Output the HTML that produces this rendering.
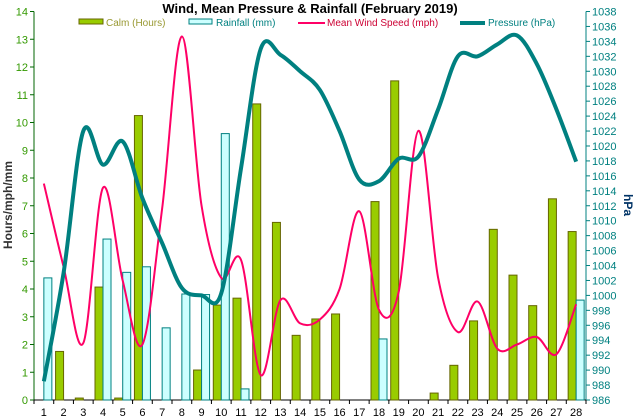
<!DOCTYPE html>
<html><head><meta charset="utf-8"><style>
body{margin:0;background:#fff;}
svg{display:block;font-family:"Liberation Sans",sans-serif;}
</style></head><body>
<svg id="c" width="635" height="419" viewBox="0 0 635 419" xmlns="http://www.w3.org/2000/svg">
<text x="310" y="13" text-anchor="middle" font-size="13" font-weight="bold" fill="#000">Wind, Mean Pressure &amp; Rainfall (February 2019)</text>
<g font-size="10">
<g><rect x="79" y="19" width="24" height="5" fill="#99cc00" stroke="#666600"/><text x="106" y="26" fill="#999933">Calm (Hours)</text></g>
<g><rect x="189" y="19" width="23" height="5" fill="#ccffff" stroke="#008080"/><text x="216" y="26" fill="#008080">Rainfall (mm)</text></g>
<g><line x1="298" y1="23" x2="325" y2="23" stroke="#ff0066" stroke-width="2"/><text x="327" y="26" fill="#cc0033">Mean Wind Speed (mph)</text></g>
<g><line x1="460" y1="23" x2="485" y2="23" stroke="#008080" stroke-width="4"/><text x="488" y="26" fill="#008080">Pressure (hPa)</text></g>
</g>
<text transform="translate(12,205) rotate(-90)" text-anchor="middle" font-size="12" font-weight="bold" fill="#333">Hours/mph/mm</text>
<text transform="translate(624,205) rotate(90)" text-anchor="middle" font-size="12" font-weight="bold" fill="#003366">hPa</text>
<g id="axes"></g><g id="bars"></g><g id="lines"></g>
</svg>
<script>
const days=[1,2,3,4,5,6,7,8,9,10,11,12,13,14,15,16,17,18,19,20,21,22,23,24,25,26,27,28];
const calm=[0,1.75,0.07,4.07,0.07,10.25,0,0,1.08,3.42,3.67,10.67,6.4,2.33,2.92,3.1,0,7.15,11.5,0,0.25,1.25,2.85,6.15,4.5,3.4,7.25,6.07];
const rain=[4.4,0,0,5.8,4.6,4.8,2.6,3.82,3.8,9.6,0.4,0,0,0,0,0,0,2.2,0,0,0,0,0,0,0,0,0,3.6];
const wind=[7.8,4.8,2.05,7.65,4.3,2.0,6.9,13.1,7.0,4.4,5.05,0.9,3.6,2.76,2.9,4.0,6.8,3.25,3.9,9.7,4.4,2.45,3.55,1.85,2.0,2.27,1.65,3.45];
const pressure=[988.5,1003,1022,1017.5,1020.6,1013,1007,1001,1000,1000.3,1017,1033,1032.2,1030,1027.5,1022,1015.5,1015.3,1018.3,1018.6,1024.9,1032,1032,1033.6,1034.8,1031,1024.9,1017.9];
const leftTicks=[0,1,2,3,4,5,6,7,8,9,10,11,13,12,14];
const rightTicks=[];for(let v=986;v<=1038;v+=2)rightTicks.push(v);
const X0=34,X1=586,Y0=400,Y1=11.5,n=days.length,cw=(X1-X0)/n;
const ly=v=>Y0-(v/14)*(Y0-Y1);
const ry=v=>Y0-((v-986)/52)*(Y0-Y1);
const cx=i=>X0+cw*(i+0.5);
const NS="http://www.w3.org/2000/svg";
function mk(t,a,p){const e=document.createElementNS(NS,t);for(const k in a)e.setAttribute(k,a[k]);p.appendChild(e);return e;}
const ax=document.getElementById('axes'),bg=document.getElementById('bars'),lg=document.getElementById('lines');
let e=mk('line',{x1:X0,y1:Y1,x2:X0,y2:Y0,stroke:'#006600'},ax);


e=mk('line',{x1:X1,y1:Y1,x2:X1,y2:Y0,stroke:'#008080'},ax);


e=mk('line',{x1:X0,y1:Y0,x2:X1,y2:Y0,stroke:'#000'},ax);


leftTicks.forEach(v=>{mk('line',{x1:X0-4,x2:X0,y1:ly(v),y2:ly(v),stroke:'#006600'},ax);
 const t=mk('text',{x:X0-6,y:ly(v)+4,'text-anchor':'end','font-size':11,fill:'#339900'},ax);t.textContent=v;
 
 });
rightTicks.forEach(v=>{mk('line',{x1:X1,x2:X1+4,y1:ry(v),y2:ry(v),stroke:'#008080'},ax);
 const t=mk('text',{x:X1+6,y:ry(v)+4,'font-size':11,fill:'#008080'},ax);t.textContent=v;
 
 });
for(let i=0;i<=n;i++)mk('line',{x1:X0+cw*i,x2:X0+cw*i,y1:Y0,y2:Y0+4,stroke:'#000'},ax);
days.forEach((d,i)=>{const t=mk('text',{x:cx(i),y:Y0+16,'text-anchor':'middle','font-size':11,fill:'#000'},ax);t.textContent=d;
 
 });
const bw=8;
calm.forEach((v,i)=>{if(v<=0)return;const r=mk('rect',{x:cx(i)-bw,y:ly(v),width:bw,height:Y0-ly(v),fill:'#99cc00',stroke:'#666600','stroke-width':1},bg);
 
 });
rain.forEach((v,i)=>{if(v<=0)return;const r=mk('rect',{x:cx(i),y:ly(v),width:bw,height:Y0-ly(v),fill:'#ccffff',stroke:'#008080','stroke-width':1},bg);
 
 });
function smooth(pts){let d='M'+pts[0][0]+','+pts[0][1];const t=1/6;
 for(let i=0;i<pts.length-1;i++){const p0=pts[Math.max(i-1,0)],p1=pts[i],p2=pts[i+1],p3=pts[Math.min(i+2,pts.length-1)];
  d+=' C'+(p1[0]+(p2[0]-p0[0])*t)+','+(p1[1]+(p2[1]-p0[1])*t)+' '+(p2[0]-(p3[0]-p1[0])*t)+','+(p2[1]-(p3[1]-p1[1])*t)+' '+p2[0]+','+p2[1];}
 return d;}
let p=mk('path',{d:smooth(wind.map((v,i)=>[cx(i),ly(v)])),fill:'none',stroke:'#ff0066','stroke-width':2},lg);


p=mk('path',{d:smooth(pressure.map((v,i)=>[cx(i),ry(v)])),fill:'none',stroke:'#008080','stroke-width':4,'stroke-linejoin':'round'},lg);


</script>
</body></html>
